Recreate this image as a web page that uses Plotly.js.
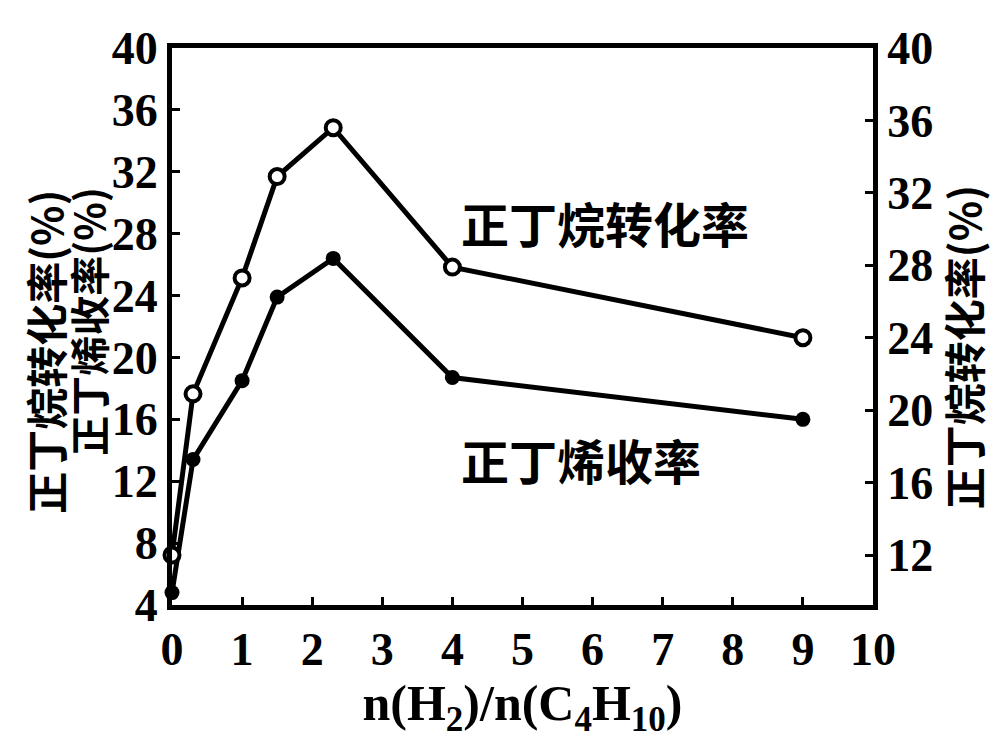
<!DOCTYPE html>
<html>
<head>
<meta charset="utf-8">
<script src="https://cdn.plot.ly/plotly-3.0.1.min.js"></script>
<style>html,body{margin:0;padding:0;background:#fff;}#chart{width:997px;height:750px;}</style>
</head>
<body>
<div id="chart"></div>
<script>
// H2 / n-C4H10 molar ratio
const ratio = [0, 0.3, 1, 1.5, 2.3, 4, 9];
// n-butane conversion (%), right axis
const conversion = [12, 20.9, 27.3, 32.9, 35.6, 27.9, 24.0];
// n-butene yield (%), left axis
const yieldPct = [4.8, 13.4, 18.5, 23.9, 26.4, 18.7, 16.0];

const xTicks = [0,1,2,3,4,5,6,7,8,9,10];
const yLeftTicks = [4,8,12,16,20,24,28,32,36,40];
const yRightTicks = [12,16,20,24,28,32,36,40];

const labelConv = '正丁烷转化率';
const labelYield = '正丁烯收率';
const yTitleConv = '正丁烷转化率(%)';
const yTitleYield = '正丁烯收率(%)';
const xTitle = 'n(H<sub>2</sub>)/n(C<sub>4</sub>H<sub>10</sub>)';

const tickFont = {family: 'Liberation Serif, DejaVu Serif, serif', size: 46, color: '#000', weight: 'bold'};
const cjk = 'Noto Sans CJK SC, sans-serif';

const traces = [
  {
    x: ratio, y: conversion, yaxis: 'y2', type: 'scatter', mode: 'lines+markers',
    line: {color: '#000', width: 5},
    marker: {symbol: 'circle', size: 15, color: '#fff', line: {color: '#000', width: 4}},
    showlegend: false, cliponaxis: false
  },
  {
    x: ratio, y: yieldPct, type: 'scatter', mode: 'lines+markers',
    line: {color: '#000', width: 5},
    marker: {symbol: 'circle', size: 15, color: '#000'},
    showlegend: false, cliponaxis: false
  }
];

const layout = {
  width: 997, height: 750,
  margin: {l: 172, r: 124, t: 48, b: 145},
  paper_bgcolor: '#fff', plot_bgcolor: '#fff',
  xaxis: {
    range: [0, 10], tickvals: xTicks, ticktext: xTicks.map(String),
    showline: true, linewidth: 5, linecolor: '#000', mirror: true,
    ticks: 'inside', ticklen: 8, tickwidth: 3, tickcolor: '#000',
    showgrid: false, zeroline: false, tickfont: tickFont,
    title: {text: xTitle, font: {family: 'Liberation Serif, serif', size: 50, color: '#000', weight: 'bold'}, standoff: 10}
  },
  yaxis: {
    range: [4, 40], tickvals: yLeftTicks, ticktext: yLeftTicks.map(String),
    showline: true, linewidth: 5, linecolor: '#000',
    ticks: 'inside', ticklen: 8, tickwidth: 3, tickcolor: '#000',
    showgrid: false, zeroline: false, tickfont: tickFont
  },
  yaxis2: {
    overlaying: 'y', side: 'right',
    range: [9.24, 40], tickvals: yRightTicks, ticktext: yRightTicks.map(String),
    showline: true, linewidth: 5, linecolor: '#000',
    ticks: 'inside', ticklen: 8, tickwidth: 3, tickcolor: '#000',
    showgrid: false, zeroline: false, tickfont: tickFont
  },
  annotations: [
    {text: labelConv, xref: 'x', yref: 'paper', x: 4.1, y: 0.688, xanchor: 'left', yanchor: 'middle',
     showarrow: false, font: {family: cjk, size: 48, color: '#000', weight: 'bold'}},
    {text: labelYield, xref: 'x', yref: 'paper', x: 4.1, y: 0.262, xanchor: 'left', yanchor: 'middle',
     showarrow: false, font: {family: cjk, size: 48, color: '#000', weight: 'bold'}},
    {text: yTitleConv, xref: 'paper', yref: 'paper', x: -0.183, y: 0.454, xanchor: 'center', yanchor: 'middle',
     textangle: -90, showarrow: false, font: {family: cjk, size: 42, color: '#000', weight: 'bold'}},
    {text: yTitleYield, xref: 'paper', yref: 'paper', x: -0.12, y: 0.51, xanchor: 'center', yanchor: 'middle',
     textangle: -90, showarrow: false, font: {family: cjk, size: 40, color: '#000', weight: 'bold'}},
    {text: yTitleConv, xref: 'paper', yref: 'paper', x: 1.127, y: 0.463, xanchor: 'center', yanchor: 'middle',
     textangle: -90, showarrow: false, font: {family: cjk, size: 42, color: '#000', weight: 'bold'}}
  ]
};

Plotly.newPlot('chart', traces, layout, {displayModeBar: false, staticPlot: true});
</script>
</body>
</html>
